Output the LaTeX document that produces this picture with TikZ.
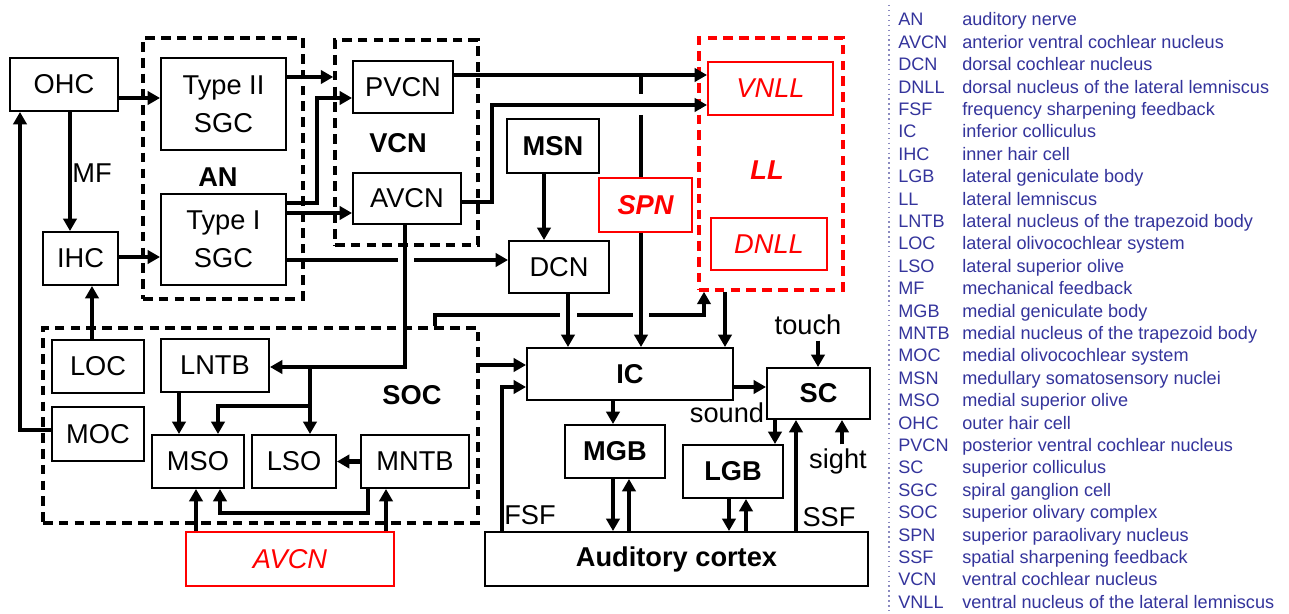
\documentclass[tikz,border=0pt]{standalone}
\usepackage{fontspec}
\setmainfont{Liberation Sans}
\usetikzlibrary{arrows.meta}
\definecolor{legC}{HTML}{34349C}
\definecolor{dotC}{HTML}{8A8AC0}
\newcommand{\diafont}{\fontsize{15.5pt}{21.5pt}\selectfont}
\newcommand{\legfont}{\fontsize{10.3pt}{12pt}\selectfont}

\begin{document}
\begin{tikzpicture}[x=0.02cm,y=-0.02cm,
  sz/.style 2 args={minimum width=#1*0.02cm,minimum height=#2*0.02cm},
  blk/.style={draw,line width=1.1pt,inner sep=0pt,align=center,font=\diafont},
  bblk/.style={blk,font=\diafont\bfseries},
  redblk/.style={blk,draw=red,text=red,font=\diafont\itshape},
  grp/.style={draw,line width=2pt,dash pattern=on 5.5pt off 3.5pt,inner sep=0pt},
  lbl/.style={inner sep=0pt,font=\diafont},
  ln/.style={line width=2.3pt},
  arr/.style={ln,-{Triangle[length=7pt,width=7.5pt]}},
  leg/.style={inner sep=0pt,anchor=base west,text=legC,font=\legfont}]
  \useasboundingbox (0,0) rectangle (1289,614);
  \fill[white] (0,0) rectangle (1289,614);

  % dashed groups
  \node[grp,sz={160}{261}] (an) at (223,168.5) {};
  \node[grp,sz={143}{205}] (vcn) at (406.5,142.5) {};
  \node[grp,draw=red,sz={144}{252}] (ll) at (771,164) {};
  \node[grp,sz={435}{195}] (soc) at (260.5,425.5) {};
  \node[lbl,font=\diafont\bfseries] (anL) at (218,177) {AN};
  \node[lbl,font=\diafont\bfseries] (vcnL) at (398,143) {VCN};
  \node[lbl,text=red,font=\diafont\bfseries\itshape] (llL) at (767,170) {LL};
  \node[lbl,font=\diafont\bfseries] (socL) at (412,395) {SOC};

  % cochlea and nerve
  \node[blk,sz={108}{53}] (ohc) at (64,84.5) {OHC};
  \node[blk,sz={75}{53}] (ihc) at (80.5,258.5) {IHC};
  \node[blk,sz={125}{92}] (sgc2) at (223.5,104) {Type II\\SGC};
  \node[blk,sz={125}{91}] (sgc1) at (223.5,239.5) {Type I\\SGC};

  % cochlear nuclei
  \node[blk,sz={100}{52}] (pvcn) at (403,87) {PVCN};
  \node[blk,sz={108}{51}] (avcn) at (407,198.5) {AVCN};
  \node[bblk,sz={92}{54}] (msn) at (553,146) {MSN};
  \node[redblk,font=\diafont\bfseries\itshape,sz={93}{54}] (spn) at (645.5,205) {SPN};
  \node[blk,sz={100}{52}] (dcn) at (559,267) {DCN};
  \node[redblk,sz={125}{53}] (vnll) at (770.5,88.5) {VNLL};
  \node[redblk,sz={116}{52}] (dnll) at (769,244) {DNLL};

  % olivary complex
  \node[blk,sz={92}{53}] (loc) at (98,366.5) {LOC};
  \node[blk,sz={92}{54}] (moc) at (98,434) {MOC};
  \node[blk,sz={108}{53}] (lntb) at (215,365.5) {LNTB};
  \node[blk,sz={92}{53}] (mso) at (198,461.5) {MSO};
  \node[blk,sz={84}{53}] (lso) at (294,461.5) {LSO};
  \node[blk,sz={108}{53}] (mntb) at (415,461.5) {MNTB};
  \node[redblk,sz={208}{54}] (avcn2) at (290,559) {AVCN};

  % midbrain and cortex
  \node[bblk,sz={206}{52}] (ic) at (630,374) {IC};
  \node[bblk,sz={103}{51}] (sc) at (818.5,393.5) {SC};
  \node[bblk,sz={100}{53}] (mgb) at (615,451.5) {MGB};
  \node[bblk,sz={100}{53}] (lgb) at (733,471.5) {LGB};
  \node[bblk,sz={383}{54}] (cortex) at (676.5,559) {Auditory cortex};
  \node[lbl] (mf) at (92,173) {MF};
  \node[lbl] (touch) at (808,325) {touch};
  \node[lbl] (sight) at (838,461) {sight};
  \node[lbl] (sound) at (727,413) {sound};
  \node[lbl] (fsf) at (530,515) {FSF};
  \node[lbl] (ssf) at (829,517) {SSF};

  % junctions
  \coordinate (tapP) at (641,75);
  \coordinate (jA) at (310,367);
  \coordinate (jB) at (310,406);

  % hair cells
  \draw[arr] (ohc.east |- 0,98) -- (sgc2.west |- 0,98);
  \draw[arr] (ohc.south -| 70,0) -- (ihc.north -| 70,0);
  \draw[arr] (ihc.east |- 0,257) -- (sgc1.west |- 0,257);
  \draw[arr] (moc.west |- 0,430) -| (ohc.south -| 20,0);
  \draw[arr] (loc.north -| 92,0) -- (ihc.south -| 92,0);

  % nerve to nuclei
  \draw[arr] (sgc2.east |- 0,77) -- (vcn.west |- 0,77);
  \draw[arr] (sgc1.east |- 0,203) -- (317,203) |- (pvcn.west |- 0,98);
  \draw[arr] (sgc1.east |- 0,213) -- (avcn.west |- 0,213);
  \draw[arr] (sgc1.east |- 0,260) -- (398,260) (414,260) -- (dcn.west |- 0,260);
  \draw[arr] (pvcn.east |- 0,75) -- (vnll.west |- 0,75);
  \draw[arr] (avcn.east |- 0,202) -- (492,202) |- (vnll.west |- 0,105);
  \draw[ln] (tapP) -- (641,94) (641,115) -- (spn.north -| 641,0);
  \draw[arr] (spn.south -| 641,0) -- (ic.north -| 641,0);
  \draw[arr] (msn.south -| 544,0) -- (dcn.north -| 544,0);
  \draw[arr] (dcn.south -| 568,0) -- (ic.north -| 568,0);
  \draw[arr] (ll.south -| 725,0) -- (ic.north -| 725,0);

  % olivary wiring
  \draw[arr] (avcn.south -| 405,0) |- (lntb.east |- jA);
  \draw[arr] (jA) -- (lso.north -| jA);
  \draw[arr] (jB) -| (mso.north -| 218,0);
  \draw[arr] (lntb.south -| 179,0) -- (mso.north -| 179,0);
  \draw[arr] (mntb.west) -- (lso.east);
  \draw[arr] (mntb.south -| 368,0) -- (368,513) -| (mso.south -| 220,0);
  \draw[arr] (avcn2.north -| 196,0) -- (mso.south -| 196,0);
  \draw[arr] (avcn2.north -| 386,0) -- (mntb.south -| 386,0);
  \draw[arr] (soc.east |- 0,365) -- (ic.west |- 0,365);
  \draw[arr] (soc.north -| 435,0) |- (560,315) (577,315) -- (633,315) (649,315) -| (ll.south -| 704,0);

  % colliculi, thalamus, cortex
  \draw[arr] (cortex.north -| 502,0) |- (ic.west |- 0,387);
  \draw[arr] (ic.east |- 0,387) -- (sc.west |- 0,387);
  \draw[arr] (ic.south -| 613,0) -- (mgb.north -| 613,0);
  \draw[arr] (mgb.south -| 613,0) -- (cortex.north -| 613,0);
  \draw[arr] (cortex.north -| 629,0) -- (mgb.south -| 629,0);
  \draw[arr] (sc.south -| 775,0) -- (lgb.north -| 775,0);
  \draw[arr] (lgb.south -| 729,0) -- (cortex.north -| 729,0);
  \draw[arr] (cortex.north -| 746,0) -- (lgb.south -| 746,0);
  \draw[arr] (cortex.north -| 796,0) -- (sc.south -| 796,0);
  \draw[arr] ([yshift=-3pt]touch.south -| 818,0) -- (sc.north -| 818,0);
  \draw[arr] ([yshift=2pt]sight.north -| 842,0) -- (sc.south -| 842,0);

  % legend
  \draw[dotC,dotted,line width=0.8pt] (889,5) -- (889,614);
  \foreach \ab/\txt [count=\i] in {AN/auditory nerve,AVCN/anterior ventral cochlear nucleus,
      DCN/dorsal cochlear nucleus,DNLL/dorsal nucleus of the lateral lemniscus,
      FSF/frequency sharpening feedback,IC/inferior colliculus,IHC/inner hair cell,
      LGB/lateral geniculate body,LL/lateral lemniscus,LNTB/lateral nucleus of the trapezoid body,
      LOC/lateral olivocochlear system,LSO/lateral superior olive,MF/mechanical feedback,
      MGB/medial geniculate body,MNTB/medial nucleus of the trapezoid body,
      MOC/medial olivocochlear system,MSN/medullary somatosensory nuclei,
      MSO/medial superior olive,OHC/outer hair cell,PVCN/posterior ventral cochlear nucleus,
      SC/superior colliculus,SGC/spiral ganglion cell,SOC/superior olivary complex,
      SPN/superior paraolivary nucleus,SSF/spatial sharpening feedback,
      VCN/ventral cochlear nucleus,VNLL/ventral nucleus of the lateral lemniscus}
    \node[leg] (k\i) at (898,{26+22.4*(\i-1)}) {\ab} node[leg] (d\i) at (962,{26+22.4*(\i-1)}) {\txt};
\end{tikzpicture}
\end{document}
